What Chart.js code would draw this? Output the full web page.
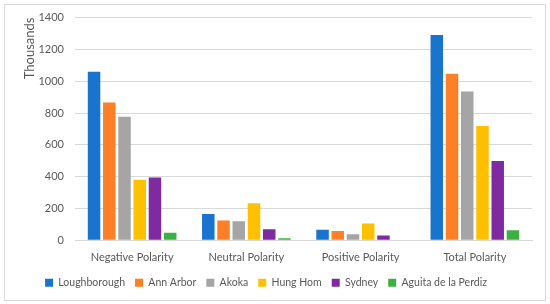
<!DOCTYPE html>
<html>
<head>
<meta charset="utf-8">
<script src="https://cdn.jsdelivr.net/npm/chart.js@4/dist/chart.umd.min.js"></script>
<style>
html,body{margin:0;padding:0;background:#fff;}
#wrap{width:550px;height:304px;position:relative;}
</style>
</head>
<body>
<div id="wrap"><canvas id="c" width="550" height="304"></canvas></div>
<script>
const categories = ["Negative Polarity", "Neutral Polarity", "Positive Polarity", "Total Polarity"];
const seriesNames = ["Loughborough", "Ann Arbor", "Akoka", "Hung Hom", "Sydney", "Aguita de la Perdiz"];
const loughborough = [1059, 166, 67, 1291];
const annArbor = [866, 124, 59, 1047];
const akoka = [776, 120, 38, 935];
const hungHom = [380, 233, 105, 719];
const sydney = [395, 69, 30, 498];
const aguita = [48, 13, 4, 63];
const yTicks = [0, 200, 400, 600, 800, 1000, 1200, 1400];
const colors = ["#1874cd", "#ff7f27", "#a5a5a5", "#ffc000", "#7f2aa0", "#3cb043"];

const seriesData = [loughborough, annArbor, akoka, hungHom, sydney, aguita];

const borderPlugin = {
  id: 'outerBorder',
  afterDraw(chart) {
    const ctx = chart.ctx;
    ctx.save();
    ctx.strokeStyle = '#d9d9d9';
    ctx.lineWidth = 1;
    ctx.strokeRect(4.5, 4.5, 541, 296);
    ctx.restore();
  }
};

Chart.defaults.font.family = "Lato, 'Open Sans', sans-serif";
Chart.defaults.font.size = 11;
Chart.defaults.color = '#595959';

new Chart(document.getElementById('c'), {
  type: 'bar',
  data: {
    labels: categories,
    datasets: seriesNames.map((n, i) => ({
      label: n,
      data: seriesData[i],
      backgroundColor: colors[i],
      borderColor: colors[i],
      borderWidth: 0,
      categoryPercentage: 0.8,
      barPercentage: 0.82
    }))
  },
  options: {
    responsive: false,
    animation: false,
    devicePixelRatio: 1,
    layout: { padding: { left: 0, right: 18, top: 12, bottom: 6 } },
    plugins: {
      legend: {
        position: 'bottom',
        labels: { boxWidth: 8, boxHeight: 8, padding: 10, font: { size: 10.5 }, color: '#595959' }
      },
      tooltip: { enabled: false }
    },
    scales: {
      x: {
        grid: { display: false },
        border: { display: true, color: '#d9d9d9' },
        ticks: { color: '#595959', font: { size: 11 }, padding: 3 }
      },
      y: {
        min: 0, max: 1400,
        afterBuildTicks(scale) { scale.ticks = yTicks.map(v => ({ value: v })); },
        afterFit(scale) { scale.width = 75; },
        grid: { color: '#d9d9d9', drawTicks: false },
        border: { display: false },
        ticks: { color: '#595959', font: { size: 11 }, padding: 11, callback: v => String(v) },
        title: { display: true, text: 'Thousands', align: 'end', color: '#595959', font: { size: 13 }, padding: { top: 22, bottom: 0 } }
      }
    }
  },
  plugins: [borderPlugin]
});
</script>
</body>
</html>
